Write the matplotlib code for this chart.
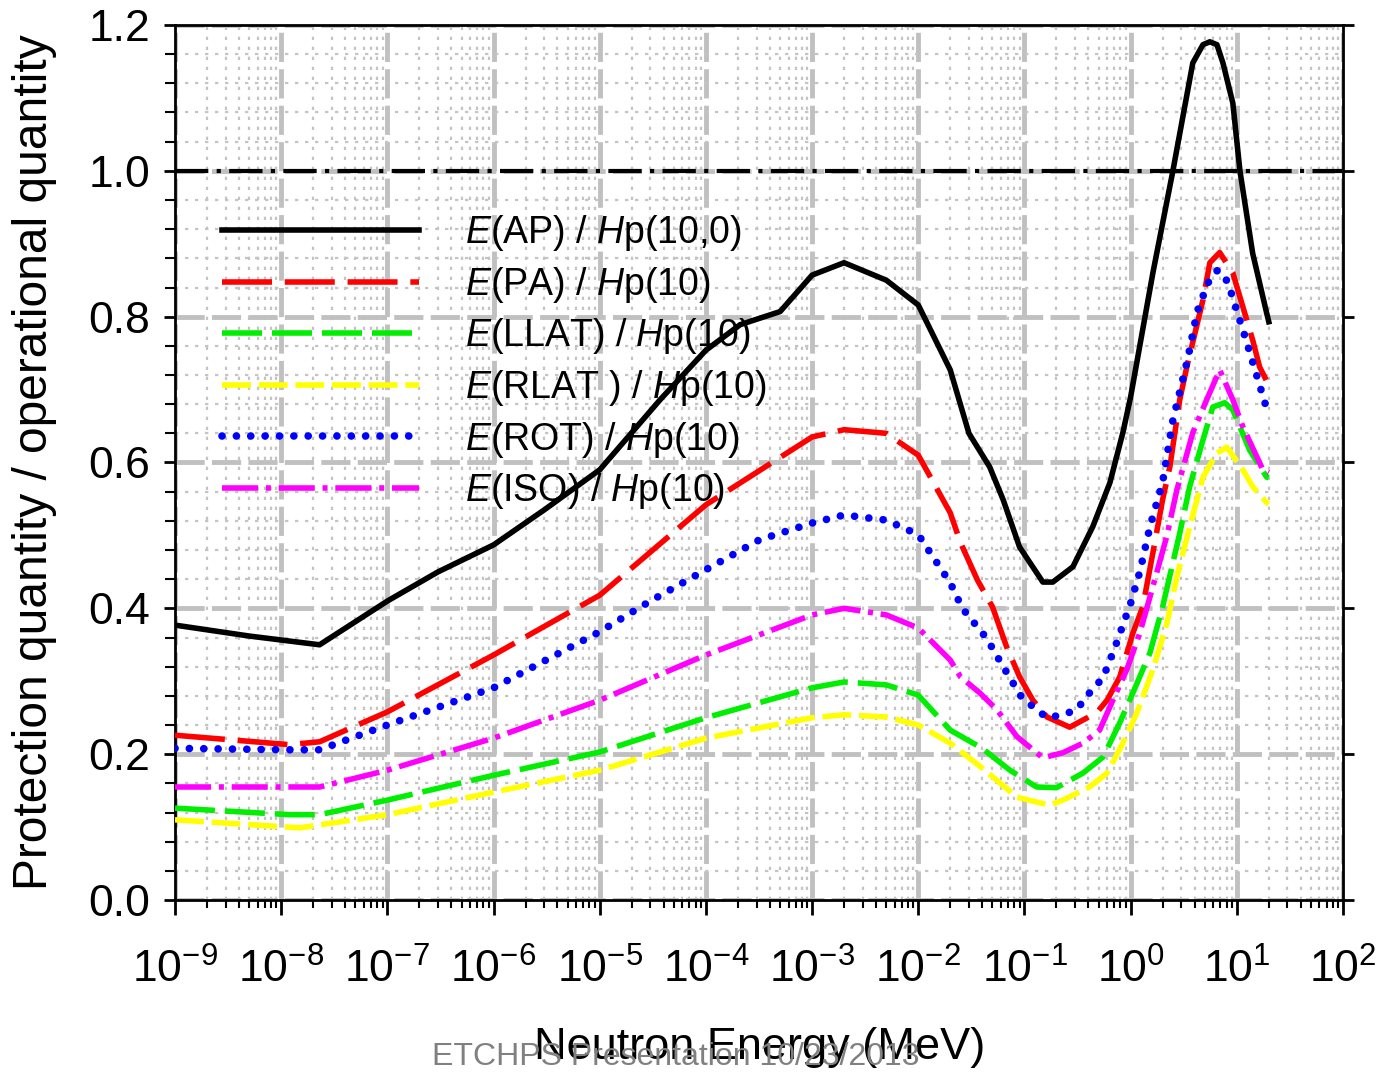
import numpy as np
import matplotlib.pyplot as plt
from matplotlib.ticker import FixedLocator, FixedFormatter, LogLocator, MultipleLocator, NullFormatter

plt.rcParams['font.family'] = ['Liberation Sans', 'DejaVu Sans']
plt.rcParams['mathtext.fontset'] = 'custom'
plt.rcParams['mathtext.rm'] = 'Liberation Sans'
plt.rcParams['mathtext.it'] = 'Liberation Sans:italic'
plt.rcParams['mathtext.default'] = 'regular'

# neutron energy (MeV) and ratio values
e_ap = [1e-9, 5e-9, 2.3e-8, 1e-7, 3e-7, 1e-6, 3e-6, 1e-5, 3.7e-5, 1e-4, 2.1e-4, 5e-4,
        1e-3, 2e-3, 5e-3, 1e-2, 2e-2, 3e-2, 4.7e-2, 6.3e-2, 9e-2, 0.149, 0.185, 0.286,
        0.44, 0.637, 0.845, 1.0, 1.62, 2.5, 3.85, 4.8, 5.57, 6.5, 7.4, 9.17, 10.7, 14.1, 19.1, 20]
r_ap = [0.377, 0.362, 0.350, 0.41, 0.45, 0.487, 0.535, 0.59, 0.686, 0.754, 0.789, 0.807,
        0.857, 0.874, 0.85, 0.816, 0.727, 0.64, 0.594, 0.549, 0.484, 0.436, 0.436, 0.457,
        0.512, 0.572, 0.641, 0.69, 0.86, 1.0, 1.148, 1.173, 1.177, 1.173, 1.148, 1.093, 1.0, 0.887, 0.805, 0.793]

e_pa = [1e-9, 1.2e-8, 2.3e-8, 1e-7, 1e-6, 1e-5, 1e-4, 1e-3, 2e-3, 5e-3, 1e-2, 2e-2, 2.5e-2,
        3.6e-2, 5e-2, 6.8e-2, 9e-2, 0.12, 0.163, 0.267, 0.48, 0.6, 0.79, 1.05, 1.3, 1.62, 2.0,
        2.34, 2.9, 3.38, 4.8, 5.57, 6.9, 9.17, 10.7, 14.1, 16.4, 20]
r_pa = [0.226, 0.213, 0.217, 0.258, 0.336, 0.418, 0.542, 0.635, 0.645, 0.64, 0.61, 0.531, 0.49,
        0.439, 0.402, 0.347, 0.306, 0.274, 0.251, 0.237, 0.257, 0.274, 0.306, 0.366, 0.402, 0.476, 0.549,
        0.594, 0.686, 0.731, 0.823, 0.874, 0.888, 0.86, 0.827, 0.768, 0.731, 0.706]

e_llat = [1e-9, 1.2e-8, 2.3e-8, 1e-7, 1e-6, 1e-5, 1e-4, 1e-3, 2e-3, 5e-3, 1e-2, 2e-2, 4e-2,
          7.3e-2, 0.13, 0.2, 0.355, 0.55, 0.79, 1.05, 1.52, 2.0, 2.9, 3.6, 4.8, 5.94, 7.7,
          9.17, 13.2, 19.1, 20]
r_llat = [0.126, 0.117, 0.117, 0.137, 0.171, 0.203, 0.25, 0.291, 0.299, 0.295, 0.281, 0.233, 0.208,
          0.178, 0.155, 0.154, 0.174, 0.196, 0.243, 0.284, 0.339, 0.402, 0.503, 0.567, 0.631, 0.676, 0.682,
          0.672, 0.617, 0.58, 0.579]

e_rlat = [1e-9, 1.5e-8, 1e-7, 1e-6, 1e-5, 1e-4, 1e-3, 2e-3, 5e-3, 1e-2, 2e-2, 4e-2, 8.5e-2,
          0.173, 0.23, 0.41, 0.6, 0.845, 1.14, 1.62, 2.2, 2.72, 3.6, 4.8, 6.5, 8.05, 11.4, 14.1, 19.1, 20]
r_rlat = [0.11, 0.099, 0.117, 0.148, 0.178, 0.222, 0.25, 0.254, 0.251, 0.24, 0.215, 0.181, 0.141,
          0.13, 0.137, 0.155, 0.174, 0.215, 0.256, 0.316, 0.38, 0.443, 0.512, 0.58, 0.613, 0.621, 0.59, 0.567, 0.545, 0.543]

e_rot = [1e-9, 1.2e-8, 2.3e-8, 1e-7, 1e-6, 1e-5, 3e-5, 1e-4, 3.2e-4, 1e-3, 2e-3, 5e-3, 1e-2,
         2e-2, 2.6e-2, 4.4e-2, 6.3e-2, 9.5e-2, 0.163, 0.23, 0.31, 0.41, 0.55, 0.71, 1.0, 1.22, 1.52,
         2.0, 2.5, 3.46, 4.2, 5.33, 6.6, 8.2, 12.4, 19]
r_rot = [0.208, 0.206, 0.206, 0.24, 0.291, 0.368, 0.41, 0.453, 0.494, 0.517, 0.528, 0.521, 0.501,
         0.435, 0.40, 0.359, 0.32, 0.277, 0.25, 0.254, 0.261, 0.284, 0.305, 0.346, 0.407, 0.45, 0.512,
         0.573, 0.658, 0.743, 0.805, 0.846, 0.864, 0.848, 0.765, 0.675]

e_iso = [1e-9, 2.3e-8, 1e-7, 1e-6, 1e-5, 1e-4, 1e-3, 2e-3, 5e-3, 1e-2, 2e-2, 2.5e-2, 3.8e-2,
         5.5e-2, 8.5e-2, 0.149, 0.23, 0.355, 0.51, 0.68, 0.92, 1.22, 1.62, 2.2, 2.72, 3.85, 5.2,
         6.9, 9.17, 11.4, 17.6, 20]
r_iso = [0.155, 0.155, 0.178, 0.222, 0.274, 0.336, 0.391, 0.40, 0.391, 0.373, 0.329, 0.306, 0.284,
         0.261, 0.224, 0.195, 0.202, 0.215, 0.233, 0.274, 0.316, 0.366, 0.43, 0.50, 0.562, 0.641, 0.686,
         0.727, 0.686, 0.649, 0.59, 0.586]

ref_level = 1.0

labels = [r'$\mathit{E}$(AP) / $\mathit{H}$p(10,0)',
          r'$\mathit{E}$(PA) / $\mathit{H}$p(10)',
          r'$\mathit{E}$(LLAT) / $\mathit{H}$p(10)',
          r'$\mathit{E}$(RLAT ) / $\mathit{H}$p(10)',
          r'$\mathit{E}$(ROT) / $\mathit{H}$p(10)',
          r'$\mathit{E}$(ISO) / $\mathit{H}$p(10)']

x_ticks = [1e-9, 1e-8, 1e-7, 1e-6, 1e-5, 1e-4, 1e-3, 1e-2, 1e-1, 1e0, 1e1, 1e2]
x_ticklabels = [r'$10^{-9}$', r'$10^{-8}$', r'$10^{-7}$', r'$10^{-6}$', r'$10^{-5}$', r'$10^{-4}$',
                r'$10^{-3}$', r'$10^{-2}$', r'$10^{-1}$', r'$10^{0}$', r'$10^{1}$', r'$10^{2}$']
y_ticks = [0.0, 0.2, 0.4, 0.6, 0.8, 1.0, 1.2]
y_ticklabels = ['0.0', '0.2', '0.4', '0.6', '0.8', '1.0', '1.2']

fig = plt.figure(figsize=(13.83, 10.72), dpi=100)
ax = fig.add_axes([175 / 1383, 172 / 1072, 1168 / 1383, 875 / 1072])

ax.set_xscale('log')
ax.set_xlim(1e-9, 1e2)
ax.set_ylim(0, 1.2)

# grid
ax.set_axisbelow(True)
ax.grid(which='major', color='#c0c0c0', lw=3.5, ls=(0, (6, 1.5)))
ax.grid(which='minor', color='#c4c4c4', lw=1.6, ls=(0, (1.5, 3)))

ax.axhline(ref_level, color='black', lw=3, ls=(0, (8, 2, 1, 2)), zorder=3)

ax.plot(e_ap, r_ap, color='black', lw=4, label=labels[0], zorder=5)
ax.plot(e_pa, r_pa, color='#ff0000', lw=4, ls=(0, (9, 2.3)), label=labels[1], zorder=4)
ax.plot(e_llat, r_llat, color='#00ee00', lw=4, ls=(0, (7.2, 1.8)), label=labels[2], zorder=4)
ax.plot(e_rlat, r_rlat, color='#ffff00', lw=4, ls=(0, (5.2, 1.4)), label=labels[3], zorder=4)
ax.plot(e_rot, r_rot, color='#0000ff', lw=5.5, ls=(0, (0.01, 1.87)), dash_capstyle='round',
        label=labels[4], zorder=4)
ax.plot(e_iso, r_iso, color='#ff00ff', lw=4, ls=(0, (6.5, 1.4, 0.9, 1.4)), label=labels[5], zorder=4)

# ticks
ax.xaxis.set_major_locator(FixedLocator(x_ticks))
ax.xaxis.set_major_formatter(FixedFormatter(x_ticklabels))
ax.xaxis.set_minor_locator(LogLocator(base=10, subs=np.arange(2, 10), numticks=20))
ax.xaxis.set_minor_formatter(NullFormatter())
ax.yaxis.set_major_locator(FixedLocator(y_ticks))
ax.yaxis.set_major_formatter(FixedFormatter(y_ticklabels))
ax.yaxis.set_minor_locator(MultipleLocator(0.04))

ax.tick_params(axis='both', which='major', labelsize=32, width=2, direction='out')
ax.tick_params(axis='x', which='major', length=11, pad=24, top=False)
ax.tick_params(axis='x', which='minor', length=6, width=1.5, top=False)
ax.tick_params(axis='y', which='major', length=8, pad=10, right=True)
ax.tick_params(axis='y', which='minor', length=7, width=1.5, right=False)
for s in ax.spines.values():
    s.set_linewidth(2)

ax.legend(loc='upper left', bbox_to_anchor=(222 / 1383, 1 - 213 / 1072), bbox_transform=fig.transFigure,
          frameon=False, fontsize=27, handlelength=5.25, handletextpad=1.23, labelspacing=0.31,
          borderpad=0, borderaxespad=0)

fig.text(35 / 1383, 1 - 462 / 1072, 'Protection quantity / operational quantity', rotation=90,
         ha='center', va='center', fontsize=34.5)
fig.text(760 / 1383, 1 - 1048 / 1072, 'Neutron Energy (MeV)', ha='center', va='center', fontsize=32.5)
fig.text(676 / 1383, 1 - 1057 / 1072, 'ETCHPS Presentation 10/23/2013', ha='center', va='center',
         fontsize=23, color='#808080')

fig.savefig('out.png', dpi=100)
